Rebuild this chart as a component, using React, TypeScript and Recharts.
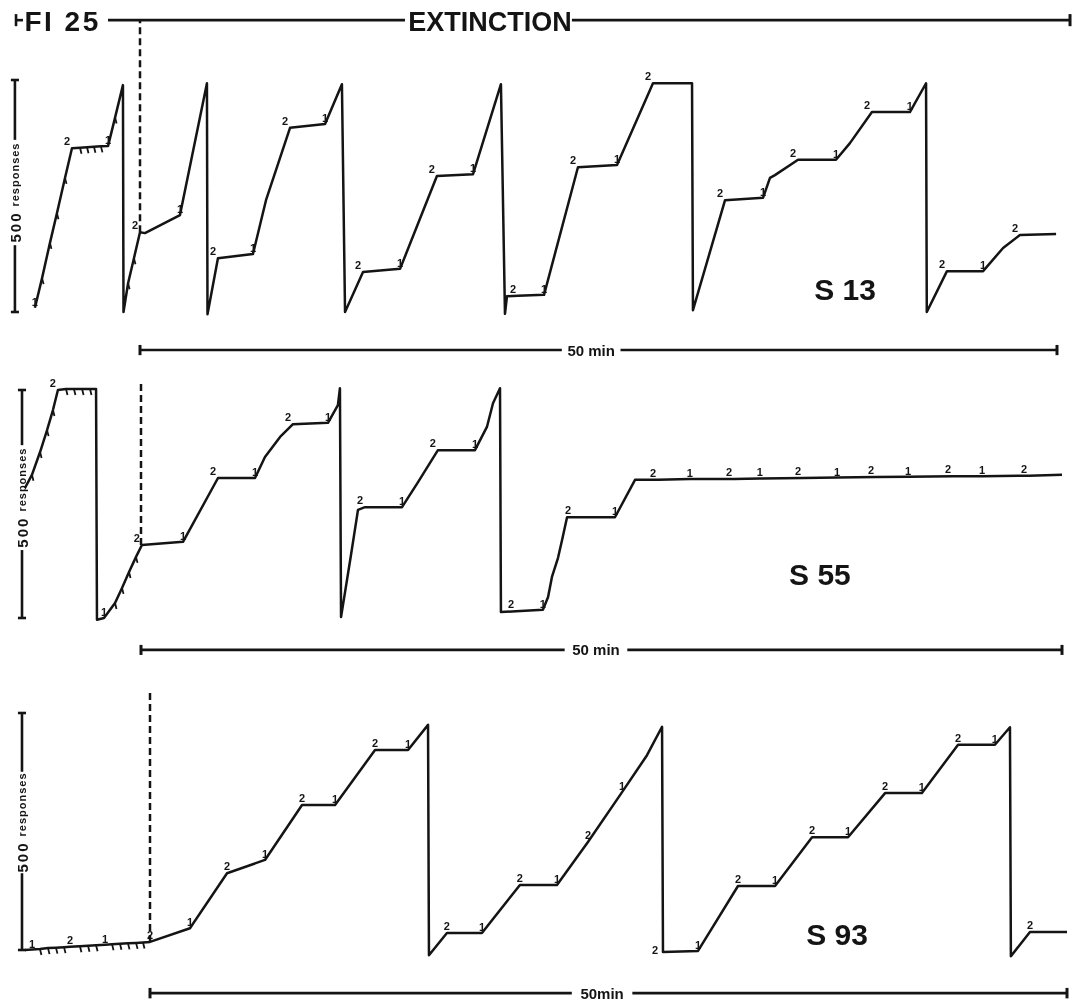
import React from 'react';
import { LineChart, Line, XAxis, YAxis, ReferenceLine, ReferenceDot } from 'recharts';

const W = 1075;
const H = 1004;
const INK = '#141414';
const FONT = "'Liberation Sans', Arial, Helvetica, sans-serif";

// cumulative records: minutes from the start of extinction, responses since the last pen reset,
// and the event mark at that point ('1' / '2' = component change, 'h' = reinforcement hatch)
const s13Min = [-5.73, -5.34, -4.91, -4.53, -4.09, -3.71, -3.27, -2.89, -2.51, -2.13, -1.74, -1.36, -0.93, -0.9, -0.65, -0.33, 0, 0.27, 2.18, 3.65, 3.68, 4.25, 6.16, 6.87, 8.18, 10.09, 11.01, 11.18, 12.16, 14.18, 16.19, 18.16, 19.68, 19.9, 20.01, 20.61, 22.03, 23.88, 26.01, 27.97, 30.1, 30.15, 31.9, 33.97, 34.35, 34.62, 35.88, 37.95, 38.71, 39.91, 41.98, 42.86, 42.9, 44.0, 45.97, 47.06, 47.98, 49.95];
const s13Resp = [9, 73, 149, 213, 289, 353, 354, 355, 356, 357, 358, 419, 489, 0, 62, 116, 172, 170, 209, 493, -5, 116, 125, 241, 397, 405, 491, 0, 86, 93, 293, 297, 491, -4, 34, 35, 37, 312, 317, 493, 493, 4, 241, 246, 289, 295, 328, 328, 364, 431, 431, 493, 0, 88, 88, 138, 166, 168];
const s13Mark = ['1', 'h', 'h', 'h', 'h', '2', 'h', 'h', 'h', 'h', '1', 'h', '', '', 'h', 'h', '2', '', '1', '', '', '2', '1', '', '2', '1', '', '', '2', '1', '2', '1', '', '', '', '2', '1', '2', '1', '2', '', '', '2', '1', '', '', '2', '1', '', '2', '1', '', '', '2', '1', '', '2', ''];

const s55Min = [-6.3, -5.92, -5.48, -5.1, -4.78, -4.51, -4.07, -3.64, -3.2, -2.77, -2.44, -2.39, -2.01, -1.41, -1.03, -0.65, -0.27, 0.05, 2.28, 4.18, 6.19, 6.73, 7.55, 8.25, 10.15, 10.69, 10.8, 10.86, 11.4, 11.78, 12.16, 14.17, 15.04, 16.12, 18.13, 18.78, 19.11, 19.49, 19.54, 20.36, 21.82, 22.1, 22.31, 22.64, 22.86, 23.13, 23.45, 25.73, 26.82, 28.07, 29.8, 32.19, 33.6, 35.94, 37.79, 39.9, 41.64, 44.08, 45.66, 48.21, 50.0];
const s55Resp = [285, 314, 364, 412, 456, 500, 502, 502, 502, 502, 502, -4, 0, 33, 66, 101, 134, 160, 167, 307, 307, 353, 397, 425, 428, 467, 504, 2, 138, 237, 243, 243, 298, 368, 368, 419, 471, 504, 13, 15, 18, 46, 90, 132, 171, 221, 221, 221, 303, 303, 305, 305, 306, 307, 308, 309, 310, 311, 311, 312, 314];
const s55Mark = ['', 'h', 'h', 'h', 'h', '2', 'h', 'h', 'h', 'h', '', '', '1', 'h', 'h', 'h', 'h', '2', '1', '2', '1', '', '', '2', '1', '', '', '', '', '', '2', '1', '', '2', '1', '', '', '', '', '2', '1', '', '', '', '', '', '2', '1', '', '2', '1', '2', '1', '2', '1', '2', '1', '2', '1', '2', ''];

const s93Min = [-6.82, -6.43, -6.0, -5.56, -5.13, -4.69, -4.36, -3.82, -3.38, -2.94, -2.45, -2.07, -1.64, -1.2, -0.76, -0.38, 0, 2.18, 4.2, 6.27, 8.29, 10.09, 12.27, 14.07, 15.16, 15.21, 16.19, 18.1, 20.17, 22.19, 23.88, 25.74, 27.1, 27.92, 27.97, 29.88, 32.06, 34.08, 36.1, 38.06, 40.08, 42.09, 44.06, 46.07, 46.89, 46.94, 47.98, 50.0];
const s93Resp = [0, 1, 2, 4, 5, 6, 7, 8, 9, 10, 11, 12, 13, 14, 15, 16, 17, 46, 162, 190, 306, 306, 422, 422, 475, -11, 36, 36, 137, 137, 228, 333, 411, 471, -4, -2, 135, 135, 238, 238, 331, 331, 433, 433, 470, -13, 38, 38];
const s93Mark = ['', '1', 'h', 'h', 'h', 'h', '2', 'h', 'h', 'h', '1', 'h', 'h', 'h', 'h', 'h', '2', '1', '2', '1', '2', '1', '2', '1', '', '', '2', '1', '2', '1', '2', '1', '', '', '2l', '1', '2', '1', '2', '1', '2', '1', '2', '1', '', '', '2', ''];

const subjects = ['S 13', 'S 55', 'S 93'];
const timeLabels = ['50 min', '50 min', '50min'];

type Row = { t: number; r: number; mark: string };
type Geo = { top: number; bottom: number; left0: number; ppm: number; zeroPy: number; px500: number; twoDx: number };

const rowsOf = (min: number[], resp: number[], mark: string[]): Row[] =>
  min.map((t, i) => ({ t, r: resp[i], mark: mark[i] }));

// page geometry of each record (pixels per minute, pixel height of 500 responses)
const G13: Geo = { top: 0, bottom: 365, left0: 140, ppm: 18.34, zeroPy: 312, px500: 232, twoDx: -5 };
const G55: Geo = { top: 365, bottom: 670, left0: 141, ppm: 18.42, zeroPy: 618, px500: 228, twoDx: -5 };
const G93: Geo = { top: 670, bottom: 1004, left0: 150, ppm: 18.34, zeroPy: 950, px500: 237, twoDx: 0 };

const seg = (key: string, x1: number, y1: number, x2: number, y2: number, extra: any = {}) => (
  <ReferenceLine
    key={key}
    segment={[{ x: x1, y: y1 }, { x: x2, y: y2 }]}
    stroke={INK}
    strokeWidth={2.6}
    ifOverflow="visible"
    {...extra}
  />
);

const textAt = (key: string, x: number, y: number, text: string, props: any) => (
  <ReferenceDot
    key={key}
    x={x}
    y={y}
    r={1}
    ifOverflow="visible"
    isFront
    shape={(p: any) => (
      <text x={p.cx} y={p.cy} fill={INK} fontFamily={FONT} fontWeight="bold" {...props}>
        {text}
      </text>
    )}
  />
);

const scaleText = (key: string, x: number, y: number) => (
  <ReferenceDot
    key={key}
    x={x}
    y={y}
    r={1}
    ifOverflow="visible"
    isFront
    shape={(p: any) => (
      <text
        transform={`rotate(-90 ${p.cx} ${p.cy})`}
        x={p.cx}
        y={p.cy}
        textAnchor="middle"
        dominantBaseline="central"
        fill={INK}
        fontFamily={FONT}
        fontWeight="bold"
      >
        <tspan fontSize={15} letterSpacing={2}>500</tspan>
        <tspan fontSize={11} letterSpacing={1} dx={5}>responses</tspan>
      </text>
    )}
  />
);

// scale bar, dashed extinction line, 50-min bar and subject name
const frame = (
  id: string,
  barT: number,
  gapLo: number,
  gapHi: number,
  dashLo: number,
  dashHi: number,
  timeR: number,
  timeGap: [number, number],
  timeText: string,
  subj: string,
  subjT: number,
  subjR: number,
) => [
  seg(`${id}-sb1`, barT, 0, barT, gapLo),
  seg(`${id}-sb2`, barT, gapHi, barT, 500),
  seg(`${id}-sc1`, barT - 0.22, 0, barT + 0.22, 0),
  seg(`${id}-sc2`, barT - 0.22, 500, barT + 0.22, 500),
  scaleText(`${id}-st`, barT, (gapLo + gapHi) / 2),
  seg(`${id}-dash`, 0, dashLo, 0, dashHi, { strokeDasharray: '7 4', strokeWidth: 2.5 }),
  seg(`${id}-tb1`, 0, timeR, timeGap[0], timeR),
  seg(`${id}-tb2`, timeGap[1], timeR, 50, timeR),
  seg(`${id}-tt1`, 0, timeR - 11, 0, timeR + 11, { strokeWidth: 3 }),
  seg(`${id}-tt2`, 50, timeR - 11, 50, timeR + 11, { strokeWidth: 3 }),
  textAt(`${id}-tl`, (timeGap[0] + timeGap[1]) / 2, timeR, timeText, {
    fontSize: 15,
    textAnchor: 'middle',
    dominantBaseline: 'central',
  }),
  textAt(`${id}-name`, subjT, subjR, subj, { fontSize: 30, textAnchor: 'middle' }),
];

const header = [
  seg('h-t1', -6.76, 616, -6.76, 642),
  seg('h-t2', -6.76, 629, -6.38, 629),
  textAt('h-fi', -6.3, 606, 'FI 25', { fontSize: 28, letterSpacing: 2.5 }),
  seg('h-l1', -1.745, 629, 14.45, 629),
  textAt('h-ext', 19.08, 606, 'EXTINCTION', { fontSize: 27, textAnchor: 'middle' }),
  seg('h-l2', 23.55, 629, 50.71, 629),
  seg('h-t3', 50.71, 616, 50.71, 642, { strokeWidth: 3 }),
];

const markDot = (twoDx: number) => (p: any) => {
  const { cx, cy, payload, index } = p;
  const k = `m${index}`;
  if (cx == null || cy == null) return <g key={k} />;
  const txt = { fill: INK, fontFamily: FONT, fontWeight: 'bold', fontSize: 11, textAnchor: 'middle' as const };
  switch (payload.mark) {
    case 'h':
      return <line key={k} x1={cx} y1={cy} x2={cx + 1.5} y2={cy + 6} stroke={INK} strokeWidth={1.8} />;
    case '1':
      return <text key={k} x={cx} y={cy - 2} {...txt}>1</text>;
    case '2':
      return <text key={k} x={cx + twoDx} y={cy - 3} {...txt}>2</text>;
    case '2l':
      return <text key={k} x={cx - 8} y={cy + 2} {...txt}>2</text>;
    default:
      return <g key={k} />;
  }
};

function Record({ rows, geo, extras }: { rows: Row[]; geo: Geo; extras: React.ReactNode[] }) {
  const h = geo.bottom - geo.top;
  const rpp = 500 / geo.px500;
  const xDomain = [-geo.left0 / geo.ppm, (W - geo.left0) / geo.ppm];
  const yDomain = [(geo.zeroPy - geo.bottom) * rpp, (geo.zeroPy - geo.top) * rpp];
  return (
    <div style={{ position: 'absolute', left: 0, top: geo.top, width: W, height: h, willChange: 'transform' }}>
      <LineChart width={W} height={h} data={rows} margin={{ top: 0, right: 0, bottom: 0, left: 0 }}>
        <XAxis type="number" dataKey="t" domain={xDomain} hide allowDataOverflow />
        <YAxis type="number" domain={yDomain} hide allowDataOverflow />
        {extras}
        <Line
          type="linear"
          dataKey="r"
          stroke={INK}
          strokeWidth={2.5}
          strokeLinejoin="round"
          dot={markDot(geo.twoDx)}
          activeDot={false}
          isAnimationActive={false}
        />
      </LineChart>
    </div>
  );
}

export default function App() {
  return (
    <div style={{ position: 'absolute', left: 0, top: 0, width: W, height: H, background: '#fff', overflow: 'hidden' }}>
      <Record
        rows={rowsOf(s13Min, s13Resp, s13Mark)}
        geo={G13}
        extras={[
          ...header,
          ...frame('a', -6.82, 144, 371, 172, 629, -82, [23.0, 26.2], timeLabels[0], subjects[0], 38.44, 26),
        ]}
      />
      <Record
        rows={rowsOf(s55Min, s55Resp, s55Mark)}
        geo={G55}
        extras={frame('b', -6.46, 149, 379, 160, 515, -70, [23.0, 26.4], timeLabels[1], subjects[1], 36.86, 72)}
      />
      <Record
        rows={rowsOf(s93Min, s93Resp, s93Mark)}
        geo={G93}
        extras={frame('c', -6.98, 162, 376, 17, 544, -91, [23.0, 26.3], timeLabels[2], subjects[2], 37.46, 11)}
      />
    </div>
  );
}
